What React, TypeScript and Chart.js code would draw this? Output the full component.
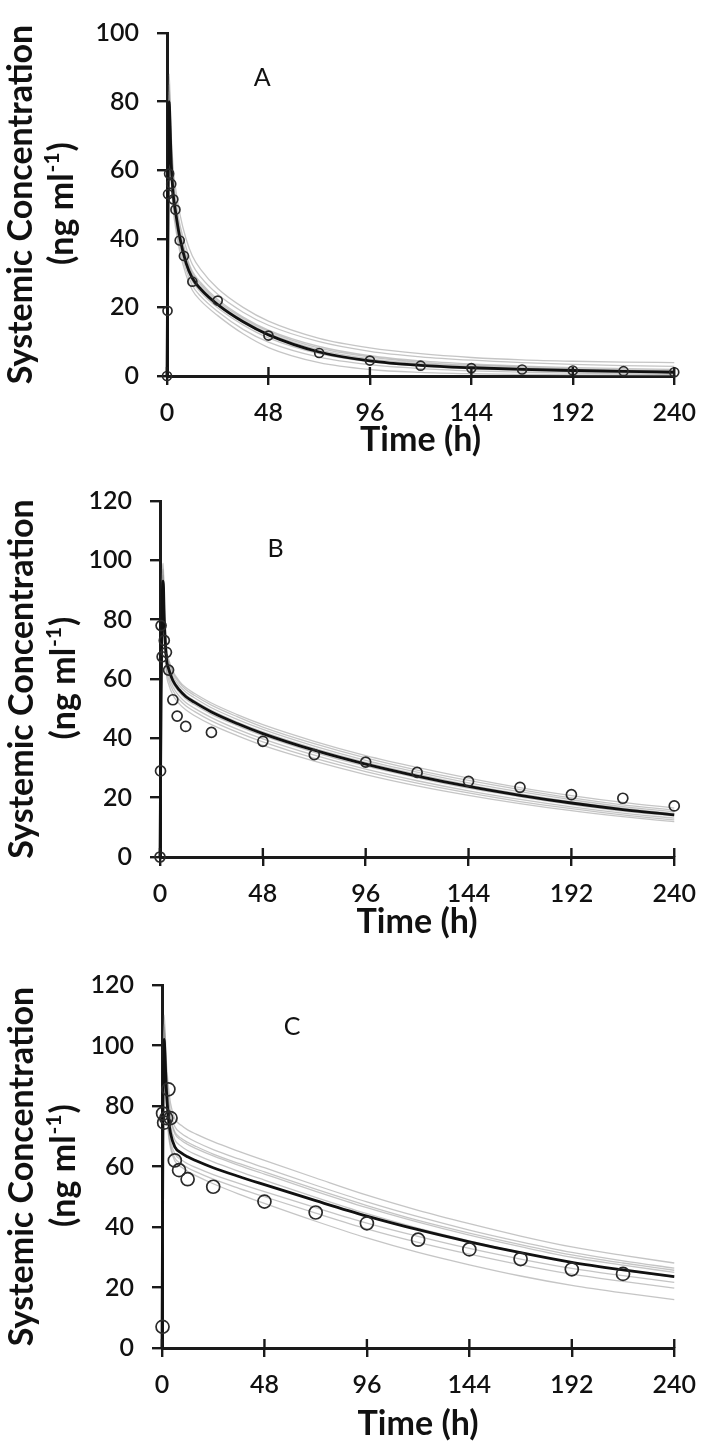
import React, { useEffect, useRef } from 'react';
import { Chart, registerables } from 'chart.js';

Chart.register(...registerables);

// ---------- tick values ----------
const X_TICKS = [0, 48, 96, 144, 192, 240];
const Y_TICKS_A = [0, 20, 40, 60, 80, 100];
const Y_TICKS_BC = [0, 20, 40, 60, 80, 100, 120];

// ---------- Panel A ----------
const TIME_A = [0, 0.5, 1, 1.5, 2, 3, 4, 6, 9, 12, 16, 24, 36, 48, 72, 96, 120, 144, 168, 192, 216, 240];
const MEAN_A = [0, 45, 80, 72, 62, 52.5, 48, 40.5, 33, 28.5, 25.3, 20.8, 15.8, 12.0, 7.0, 4.4, 3.1, 2.4, 1.95, 1.6, 1.33, 1.1];
const SIM_A1 = [0, 50, 88, 80, 70, 60, 55, 47.5, 40, 35, 31, 25.5, 20, 16, 11, 8.2, 6.5, 5.4, 4.7, 4.3, 4.05, 3.9];
const SIM_A2 = [0, 48, 85, 77, 67, 57, 52, 44.5, 37.5, 32.5, 28.8, 23.8, 18.6, 14.8, 10.0, 7.2, 5.6, 4.6, 3.9, 3.4, 3.05, 2.8];
const SIM_A3 = [0, 47, 83, 75, 65, 55, 50, 43, 35.5, 30.5, 27.2, 22.3, 17.2, 13.4, 8.6, 5.9, 4.4, 3.5, 2.9, 2.45, 2.15, 1.9];
const SIM_A4 = [0, 46, 81, 73, 63, 53, 48.5, 41, 34, 29.2, 26, 21.3, 16.3, 12.5, 7.6, 5.0, 3.6, 2.8, 2.25, 1.85, 1.55, 1.3];
const SIM_A5 = [0, 45, 79, 71, 61, 51.5, 47, 39.5, 32.3, 27.6, 24.4, 19.9, 14.9, 11.1, 6.5, 4.1, 2.9, 2.1, 1.6, 1.25, 1.0, 0.8];
const SIM_A6 = [0, 44, 77, 69, 59, 50, 45, 38, 31, 26.4, 23.2, 18.8, 13.6, 9.9, 5.5, 3.3, 2.15, 1.5, 1.1, 0.82, 0.62, 0.5];
const SIM_A7 = [0, 43, 75, 67, 57, 48, 43.5, 36.5, 29.5, 25, 21.9, 17.6, 12.3, 8.3, 3.9, 1.9, 1.05, 0.65, 0.45, 0.33, 0.25, 0.2];
const SIM_A8 = [0, 47, 82, 74, 64, 54, 49.5, 42, 34.8, 29.9, 26.6, 21.8, 16.8, 13.0, 8.1, 5.5, 4.0, 3.15, 2.55, 2.1, 1.8, 1.55];
const OBS_TIME_A = [0, 0.25, 0.5, 1, 2, 3, 4, 6, 8, 12, 24, 48, 72, 96, 120, 144, 168, 192, 216, 240];
const OBS_CONC_A = [0, 19, 53, 59, 56, 51.5, 48.5, 39.5, 35, 27.5, 22, 11.8, 6.7, 4.5, 3, 2.3, 1.9, 1.6, 1.4, 1.1];

// ---------- Panel B ----------
const TIME_B = [0, 0.5, 1, 1.5, 2, 3, 4, 6, 9, 12, 16, 24, 36, 48, 72, 96, 120, 144, 168, 192, 216, 240];
const MEAN_B = [0, 50, 86, 93, 80, 67, 63.5, 59.5, 56.3, 54.1, 52.2, 48.9, 45.0, 41.6, 36.0, 31.3, 27.3, 23.8, 20.8, 18.2, 16.0, 14.2];
const SIM_B1 = [0, 54, 91, 99, 86, 70.4, 66.8, 62.7, 59.3, 57.1, 55.2, 51.9, 48.0, 44.6, 39.0, 34.2, 30.2, 26.6, 23.4, 20.7, 18.4, 16.5];
const SIM_B2 = [0, 53, 90, 97, 84, 69.7, 66.1, 62.0, 58.7, 56.5, 54.5, 51.2, 47.3, 43.8, 38.2, 33.4, 29.3, 25.8, 22.7, 19.9, 17.6, 15.8];
const SIM_B3 = [0, 52, 89, 95, 82, 68.7, 65.1, 61.0, 57.8, 55.6, 53.7, 50.3, 46.4, 43.0, 37.4, 32.6, 28.6, 25.0, 22.0, 19.3, 17.0, 15.2];
const SIM_B4 = [0, 51, 87, 93, 81, 67.7, 64.1, 60.1, 56.9, 54.7, 52.7, 49.4, 45.5, 42.2, 36.6, 31.9, 27.9, 24.3, 21.3, 18.7, 16.5, 14.6];
const SIM_B5 = [0, 49, 85, 91, 79, 66.0, 62.5, 58.6, 55.5, 53.3, 51.4, 48.1, 44.3, 40.9, 35.3, 30.6, 26.7, 23.2, 20.3, 17.7, 15.5, 13.8];
const SIM_B6 = [0, 48, 83, 89, 77, 64.6, 61.2, 57.4, 54.2, 52.1, 50.2, 47.0, 43.1, 39.8, 34.3, 29.6, 25.7, 22.3, 19.4, 16.9, 14.8, 13.1];
const SIM_B7 = [0, 47, 81, 87, 75, 63.3, 59.9, 56.1, 53.1, 51.0, 49.1, 45.9, 42.1, 38.8, 33.3, 28.8, 24.9, 21.6, 18.7, 16.3, 14.2, 12.5];
const SIM_B8 = [0, 46, 79, 85, 73, 61.6, 58.3, 54.6, 51.6, 49.6, 47.7, 44.6, 40.9, 37.6, 32.3, 27.8, 24.0, 20.8, 18.0, 15.6, 13.6, 11.9];
const OBS_TIME_B = [0, 0.25, 0.5, 1, 2, 3, 4, 6, 8, 12, 24, 48, 72, 96, 120, 144, 168, 192, 216, 240];
const OBS_CONC_B = [0, 29, 78, 67.5, 73, 69, 63, 53, 47.5, 44, 42, 39, 34.5, 32, 28.5, 25.5, 23.5, 21, 19.8, 17.2];

// ---------- Panel C ----------
const TIME_C = [0, 0.5, 1, 1.5, 2, 3, 4, 6, 9, 12, 16, 24, 36, 48, 72, 96, 120, 144, 168, 192, 216, 240];
const MEAN_C = [0, 80, 102, 95, 86, 76, 71, 66.5, 64.5, 63.2, 61.9, 59.6, 56.7, 54.0, 48.7, 43.6, 39.1, 35.1, 31.5, 28.3, 25.8, 23.6];
const SIM_C1 = [0, 88, 110, 104, 95, 86.6, 80.9, 75.8, 73.6, 72.1, 70.7, 68.2, 65.0, 62.0, 56.2, 50.5, 45.5, 41.1, 37.0, 33.4, 30.6, 28.1];
const SIM_C2 = [0, 86, 107, 101, 92, 83.6, 78.1, 73.2, 71.0, 69.6, 68.1, 65.6, 62.5, 59.6, 53.8, 48.3, 43.4, 39.0, 35.1, 31.6, 28.8, 26.4];
const SIM_C3 = [0, 85, 105, 99, 90, 80.8, 75.5, 70.8, 68.7, 67.3, 65.9, 63.5, 60.4, 57.5, 51.8, 46.4, 41.6, 37.3, 33.5, 30.0, 27.4, 25.0];
const SIM_C4 = [0, 83, 104, 97, 88, 78.7, 73.5, 68.8, 66.7, 65.3, 63.9, 61.5, 58.4, 55.5, 49.8, 44.4, 39.6, 35.4, 31.6, 28.3, 25.7, 23.4];
const SIM_C5 = [0, 78, 99, 92, 84, 73.3, 68.5, 64.2, 62.2, 60.9, 59.6, 57.3, 54.4, 51.7, 46.4, 41.3, 36.9, 32.9, 29.4, 26.3, 23.9, 21.7];
const SIM_C6 = [0, 77, 98, 91, 83, 71.8, 67.1, 62.8, 60.9, 59.6, 58.2, 55.8, 52.8, 50.0, 44.6, 39.4, 34.9, 31.0, 27.5, 24.4, 22.0, 19.8];
const SIM_C7 = [0, 76, 96, 89, 81, 70.7, 66.0, 61.8, 59.8, 58.4, 56.9, 54.3, 50.9, 47.8, 41.9, 36.4, 31.6, 27.5, 23.8, 20.7, 18.2, 16.0];
const SIM_C8 = [0, 85, 106, 100, 91, 81.7, 76.3, 71.5, 69.3, 68.0, 66.6, 64.1, 61.0, 58.2, 52.5, 47.1, 42.2, 38.0, 34.2, 30.8, 28.1, 25.7];
const OBS_TIME_C = [0.25, 0.5, 1, 2, 3, 4, 6, 8, 12, 24, 48, 72, 96, 120, 144, 168, 192, 216];
const OBS_CONC_C = [7, 77.5, 74.5, 76, 85.5, 76, 62, 58.8, 55.8, 53.3, 48.4, 44.8, 41.2, 35.8, 32.6, 29.4, 26, 24.5];

// ---------- labels ----------
const X_TITLE = 'Time (h)';
const Y_TITLE_1 = 'Systemic Concentration';
const Y_TITLE_2A = '(ng ml';
const Y_TITLE_2SUP = '-1';
const Y_TITLE_2B = ')';

// ---------- styles / layout ----------
const W = 709;
const FONT = 'Lato, "Open Sans", sans-serif';
const TEXT = '#111111';
const AXIS = '#1a1a1a';
const SIM_COLOR = 'rgba(140,140,140,0.5)';

type PanelDef = {
  letter: string;
  time: number[];
  mean: number[];
  sims: number[][];
  obsT: number[];
  obsC: number[];
  yMax: number;
  yTicks: number[];
  letterAt: [number, number];
  pointR: number;
  top: number;
  height: number;
  area: { left: number; right: number; top: number; bottom: number };
  xTitleY: number;
  yTitleX1: number;
  yTitleX2: number;
};

const PANELS: PanelDef[] = [
  {
    letter: 'A', time: TIME_A, mean: MEAN_A,
    sims: [SIM_A1, SIM_A2, SIM_A3, SIM_A4, SIM_A5, SIM_A6, SIM_A7, SIM_A8],
    obsT: OBS_TIME_A, obsC: OBS_CONC_A, yMax: 100, yTicks: Y_TICKS_A, letterAt: [45, 87], pointR: 4.5,
    top: 0, height: 460, area: { left: 167, right: 675, top: 15, bottom: 376 },
    xTitleY: 440, yTitleX1: 21, yTitleX2: 62,
  },
  {
    letter: 'B', time: TIME_B, mean: MEAN_B,
    sims: [SIM_B1, SIM_B2, SIM_B3, SIM_B4, SIM_B5, SIM_B6, SIM_B7, SIM_B8],
    obsT: OBS_TIME_B, obsC: OBS_CONC_B, yMax: 120, yTicks: Y_TICKS_BC, letterAt: [54, 104], pointR: 5,
    top: 460, height: 480, area: { left: 160, right: 677, top: 41, bottom: 397 },
    xTitleY: 462, yTitleX1: 22, yTitleX2: 64,
  },
  {
    letter: 'C', time: TIME_C, mean: MEAN_C,
    sims: [SIM_C1, SIM_C2, SIM_C3, SIM_C4, SIM_C5, SIM_C6, SIM_C7, SIM_C8],
    obsT: OBS_TIME_C, obsC: OBS_CONC_C, yMax: 120, yTicks: Y_TICKS_BC, letterAt: [61, 106], pointR: 6.5,
    top: 940, height: 511, area: { left: 162, right: 683, top: 45, bottom: 408 },
    xTitleY: 484, yTitleX1: 22, yTitleX2: 64,
  },
];

const pairs = (xs: number[], ys: number[]) => xs.map((x, i) => ({ x, y: ys[i] }));

const TITLE_FONT = `bold 34px ${FONT}`;
const SUP_FONT = `bold 21px ${FONT}`;

const decorPlugin = {
  id: 'decor',
  afterDraw(chart: any, _args: any, opts: any) {
    const p: PanelDef = opts.panel;
    const { ctx, chartArea, scales } = chart;
    ctx.save();
    // inner half of the x ticks (ticks cross the axis)
    ctx.strokeStyle = AXIS;
    ctx.lineWidth = 2.4;
    for (const v of X_TICKS) {
      const x = scales.x.getPixelForValue(v);
      ctx.beginPath();
      ctx.moveTo(x, chartArea.bottom);
      ctx.lineTo(x, chartArea.bottom - 9);
      ctx.stroke();
    }
    ctx.fillStyle = TEXT;
    // panel letter
    ctx.font = `25px ${FONT}`;
    ctx.textAlign = 'center';
    ctx.textBaseline = 'middle';
    ctx.fillText(p.letter, scales.x.getPixelForValue(p.letterAt[0]), scales.y.getPixelForValue(p.letterAt[1]));
    // x title
    ctx.font = TITLE_FONT;
    ctx.fillText(X_TITLE, (chartArea.left + chartArea.right) / 2, p.xTitleY);
    // y title line 1
    const cy = (chartArea.top + chartArea.bottom) / 2;
    ctx.save();
    ctx.translate(p.yTitleX1, cy);
    ctx.rotate(-Math.PI / 2);
    ctx.fillText(Y_TITLE_1, 0, 0);
    ctx.restore();
    // y title line 2 with superscript
    ctx.save();
    ctx.translate(p.yTitleX2, cy);
    ctx.rotate(-Math.PI / 2);
    ctx.textAlign = 'left';
    ctx.font = TITLE_FONT;
    const wa = ctx.measureText(Y_TITLE_2A).width;
    const wb = ctx.measureText(Y_TITLE_2B).width;
    ctx.font = SUP_FONT;
    const ws = ctx.measureText(Y_TITLE_2SUP).width;
    let x = -(wa + ws + wb) / 2;
    ctx.font = TITLE_FONT;
    ctx.fillText(Y_TITLE_2A, x, 0);
    x += wa;
    ctx.font = SUP_FONT;
    ctx.fillText(Y_TITLE_2SUP, x + 1, -10);
    x += ws + 2;
    ctx.font = TITLE_FONT;
    ctx.fillText(Y_TITLE_2B, x, 0);
    ctx.restore();
    ctx.restore();
  },
};

function Panel({ p }: { p: PanelDef }) {
  const ref = useRef<HTMLCanvasElement | null>(null);
  useEffect(() => {
    if (!ref.current) return;
    const datasets: any[] = [];
    datasets.push({
      label: 'Observed',
      data: pairs(p.obsT, p.obsC),
      showLine: false,
      pointStyle: 'circle',
      pointRadius: p.pointR,
      pointBorderWidth: 1.7,
      pointBorderColor: '#2a2a2a',
      pointBackgroundColor: 'rgba(255,255,255,0)',
      clip: false,
    });
    datasets.push({
      label: 'Mean',
      data: pairs(p.time, p.mean),
      showLine: true,
      borderColor: '#111111',
      borderWidth: 2.8,
      pointRadius: 0,
      cubicInterpolationMode: 'monotone',
      fill: false,
      clip: false,
    });
    p.sims.forEach((s, i) => {
      datasets.push({
        label: `Trial ${i + 1}`,
        data: pairs(p.time, s),
        showLine: true,
        borderColor: SIM_COLOR,
        borderWidth: 1.3,
        pointRadius: 0,
        cubicInterpolationMode: 'monotone',
        fill: false,
        clip: false,
      });
    });
    const xH = p.height - p.area.bottom;
    const chart = new Chart(ref.current, {
      type: 'scatter',
      data: { datasets },
      options: {
        animation: false,
        responsive: false,
        devicePixelRatio: 1,
        layout: { padding: { left: 0, top: p.area.top, right: W - p.area.right, bottom: 0 } },
        plugins: {
          legend: { display: false },
          tooltip: { enabled: false },
          decor: { panel: p },
        } as any,
        scales: {
          x: {
            type: 'linear',
            min: 0,
            max: 240,
            afterBuildTicks: (s: any) => { s.ticks = X_TICKS.map((v) => ({ value: v })); },
            afterFit: (s: any) => { s.height = xH; },
            ticks: { font: { family: FONT, size: 25, weight: '600' }, color: TEXT, padding: 13, maxRotation: 0, autoSkip: false },
            grid: { drawOnChartArea: false, drawTicks: true, tickLength: 9, color: AXIS, lineWidth: 2.4 },
            border: { display: true, color: AXIS, width: 3 },
          },
          y: {
            type: 'linear',
            min: 0,
            max: p.yMax,
            afterBuildTicks: (s: any) => { s.ticks = p.yTicks.map((v) => ({ value: v })); },
            afterFit: (s: any) => { s.width = p.area.left; },
            ticks: { font: { family: FONT, size: 25, weight: '600' }, color: TEXT, padding: 18, autoSkip: false },
            grid: { drawOnChartArea: false, drawTicks: true, tickLength: 10, color: AXIS, lineWidth: 2.4 },
            border: { display: true, color: AXIS, width: 3 },
          },
        },
      },
      plugins: [decorPlugin],
    } as any);
    return () => chart.destroy();
  }, [p]);
  return (
    <canvas
      ref={ref}
      width={W}
      height={p.height}
      style={{ position: 'absolute', left: 0, top: p.top, width: W, height: p.height, display: 'block' }}
    />
  );
}

export default function App() {
  return (
    <div style={{ position: 'absolute', left: 0, top: 0, width: W, height: 1451, background: '#ffffff' }}>
      {PANELS.map((p) => (
        <Panel key={p.letter} p={p} />
      ))}
    </div>
  );
}
